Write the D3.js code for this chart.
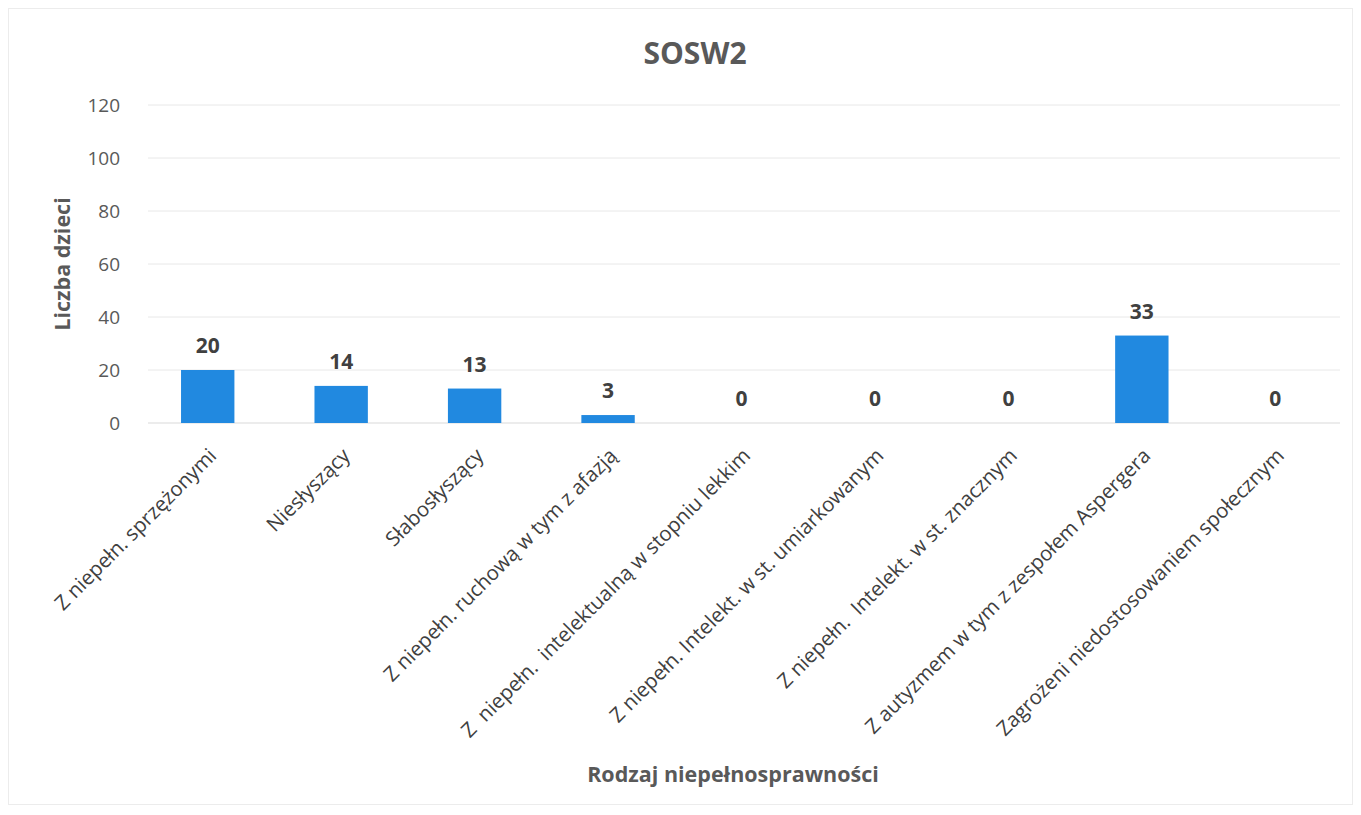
<!DOCTYPE html>
<html><head><meta charset="utf-8">
<script src="https://cdn.jsdelivr.net/npm/d3@7"></script>
<style>body{margin:0;background:#fff;} svg{display:block;}</style>
</head><body>
<svg id="chart" width="1361" height="815"></svg>
<script>
const categories = [
  "Z niepełn. sprzężonymi",
  "Niesłyszący",
  "Słabosłyszący",
  "Z niepełn. ruchową w tym z afazją",
  "Z  niepełn.  intelektualną w stopniu lekkim",
  "Z niepełn. Intelekt. w st. umiarkowanym",
  "Z niepełn.  Intelekt. w st. znacznym",
  "Z autyzmem w tym z zespołem Aspergera",
  "Zagrożeni niedostosowaniem społecznym"
];
const values = [20, 14, 13, 3, 0, 0, 0, 33, 0];
const yTicks = [0, 20, 40, 60, 80, 100, 120];
const title = "SOSW2";
const yTitle = "Liczba dzieci";
const xTitle = "Rodzaj niepełnosprawności";

const svg = d3.select("#chart");
const font = "'Open Sans', sans-serif";
const margin = {left: 141, right: 1342, top: 105, bottom: 423};

svg.append("rect").attr("x", 8.5).attr("y", 8.5).attr("width", 1344).attr("height", 796)
  .attr("fill", "#fff").attr("stroke", "#ececec");

const x = d3.scaleBand().domain(categories).range([margin.left, margin.right]).paddingInner(0.6).paddingOuter(0.3);
const y = d3.scaleLinear().domain([0, 120]).range([margin.bottom, margin.top]);

// gridlines
svg.append("g").selectAll("line").data(yTicks).join("line")
  .attr("x1", 148).attr("x2", 1340)
  .attr("y1", d => y(d)).attr("y2", d => y(d))
  .attr("stroke", d => d === 0 ? "#d9d9d9" : "#e8e8e8").attr("stroke-width", 1);

// y tick labels
svg.append("g").selectAll("text").data(yTicks).join("text")
  .attr("x", 120).attr("y", d => y(d)).attr("dy", "0.35em")
  .attr("text-anchor", "end").attr("font-family", font).attr("font-size", 19)
  .attr("fill", "#595959").text(d => d);

// bars
svg.append("g").selectAll("rect").data(values).join("rect")
  .attr("x", (d, i) => x(categories[i]))
  .attr("width", x.bandwidth())
  .attr("y", d => y(d))
  .attr("height", d => y(0) - y(d))
  .attr("fill", "#2189E0");

// data labels
svg.append("g").selectAll("text").data(values).join("text")
  .attr("x", (d, i) => x(categories[i]) + x.bandwidth() / 2)
  .attr("y", d => y(d) - 17)
  .attr("text-anchor", "middle").attr("font-family", font).attr("font-weight", "bold")
  .attr("font-size", 21).attr("fill", "#404040").text(d => d);

// x labels
svg.append("g").selectAll("text").data(categories).join("text")
  .attr("transform", d => `translate(${x(d) + x.bandwidth() / 2 + 10},${y(0) + 34}) rotate(-45)`)
  .attr("text-anchor", "end").attr("font-family", font).attr("font-size", 20.4)
  .attr("fill", "#404040").attr("xml:space", "preserve").style("white-space", "pre").text(d => d);

// title
svg.append("text").attr("x", 695).attr("y", 64).attr("text-anchor", "middle")
  .attr("font-family", font).attr("font-weight", "bold").attr("font-size", 30)
  .attr("fill", "#595959").text(title);

// y title
svg.append("text").attr("transform", "translate(70,264) rotate(-90)").attr("text-anchor", "middle")
  .attr("font-family", font).attr("font-weight", "bold").attr("font-size", 21.5)
  .attr("fill", "#595959").text(yTitle);

// x title
svg.append("text").attr("x", 733).attr("y", 782).attr("text-anchor", "middle")
  .attr("font-family", font).attr("font-weight", "bold").attr("font-size", 21.5)
  .attr("fill", "#595959").text(xTitle);
</script>
</body></html>
